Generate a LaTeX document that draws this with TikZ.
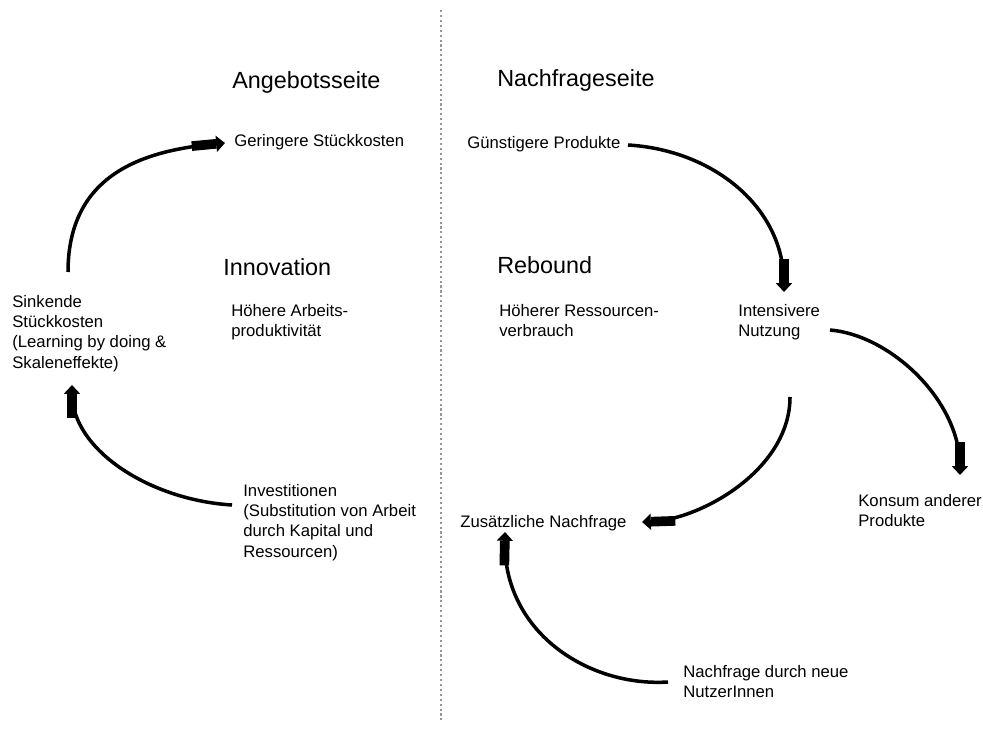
\documentclass[tikz,border=0pt]{standalone}
\usepackage{fontspec}
\setmainfont{Liberation Sans}
\usepackage{tikz}
\usetikzlibrary{arrows.meta, positioning, calc}
\definecolor{DivGray}{RGB}{150, 150, 150}

\begin{document}
\begin{tikzpicture}[
    x=0.02cm, y=-0.02cm,
    every node/.style={inner sep=0pt, align=left, anchor=north west},
    head/.style={font=\fontsize{13.3}{15}\selectfont},
    label/.style={font=\fontsize{9.5}{11.5}\selectfont},
    loop/.style={line width=2pt, -{Rectangle[length=14pt,width=5.5pt] Triangle[length=5pt,width=9pt]}},
    divider/.style={draw=DivGray, line width=0.6pt, dash pattern=on 1.2pt off 1.6pt}
  ]
    \useasboundingbox (0,0) rectangle (983,729);

    % Divider
    \coordinate (divtop) at (441,10);
    \coordinate (divbot) at (441,720);
    \draw[divider] (divtop) -- (divbot);

    % Headings
    \node[head] (angebot) at (232,71) {Angebotsseite};
    \node[head] (nachfrage) at (497,69) {Nachfrageseite};
    \node[head] (innov) at (223,258) {Innovation};
    \node[head] (rebound) at (497,256) {Rebound};

    % Supply side
    \node[label] (geringer) at (234,134) {Geringere Stückkosten};
    \node[label] (arbeit) at (231,304) {Höhere Arbeits-\\produktivität};
    \node[label] (sink) at (12,295) {Sinkende\\Stückkosten\\(Learning by doing \&\\Skaleneffekte)};
    \node[label] (invest) at (243,484) {Investitionen\\(Substitution von Arbeit\\durch Kapital und\\Ressourcen)};

    % Demand side
    \node[label] (guenstig) at (467,136) {Günstigere Produkte};
    \node[label] (ressourcen) at (499,304) {Höherer Ressourcen-\\verbrauch};
    \node[label] (intensiv) at (738,304) {Intensivere\\Nutzung};
    \node[label] (konsum) at (858,494) {Konsum anderer\\Produkte};
    \node[label] (zusatz) at (460,515) {Zusätzliche Nachfrage};
    \node[label] (neue) at (683,665) {Nachfrage durch neue\\NutzerInnen};

    % Loops
    \draw[loop] ($(sink.north west)+(56,-23)$) .. controls +(0,-102) and +(-75,7) .. ($(geringer.north west)+(-9,9)$);
    \draw[loop] ($(invest.north west)+(-11,21)$) .. controls +(-82,-5) and +(0,65) .. ($(sink.north west)+(60,90)$);
    \draw[loop] ($(guenstig.north west)+(161,9)$) .. controls +(85,5) and +(0,-85) .. ($(intensiv.north west)+(46,-12)$);
    \draw[loop] ($(intensiv.north west)+(92,26)$) .. controls +(60,5) and +(0,-75) .. ($(konsum.north west)+(102,-19)$);
    \draw[loop] ($(intensiv.north west)+(52,93)$) .. controls +(0,73) and +(58,-2) .. ($(zusatz.north west)+(182,7)$);
    \draw[loop] ($(neue.north west)+(-15,17)$) .. controls +(-80,5) and +(-2,100) .. ($(zusatz.north west)+(45,17)$);
  \end{tikzpicture}
\end{document}
